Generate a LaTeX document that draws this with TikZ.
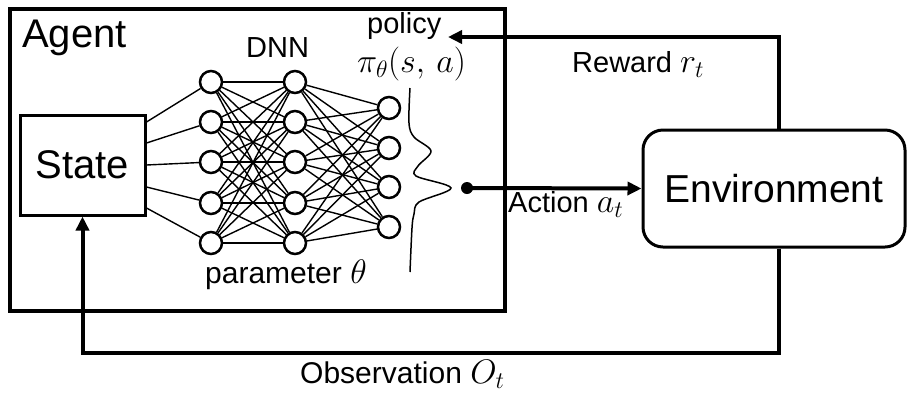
\RequirePackage{fix-cm}
\documentclass[tikz,border=0pt]{standalone}
\usepackage{fontspec}
\setmainfont{Liberation Sans}
\usetikzlibrary{arrows.meta,calc}
\newcommand{\fs}[1]{\fontsize{#1}{#1}\selectfont}
\newcommand{\mth}[1]{{\fs{34}$#1$}}
\begin{document}
\begin{tikzpicture}[x=1pt,y=-1pt,
  neuron/.style={circle,draw,line width=2.5pt,minimum size=22pt,inner sep=0pt},
  wire/.style={line width=1.4pt},
  flow/.style={line width=4pt,-{Triangle[length=14pt,width=13pt]}},
  lbl/.style={inner sep=0pt,anchor=base west},
]
\useasboundingbox (0,0) rectangle (907,392);

% agent frame
\node[draw,line width=3.2pt,minimum width=495pt,minimum height=302pt,inner sep=0pt] (agent) at (257.5,160) {};

% state and environment boxes
\node[draw,line width=3pt,minimum width=125pt,minimum height=100pt,inner sep=0pt] (state) at (82.5,165) {\fs{40}State};
\node[draw,rounded corners=20pt,line width=3pt,minimum width=262pt,minimum height=117pt,inner sep=0pt] (env) at (774,188.5) {\fs{39}Environment};

% network layers
\foreach \i/\y in {1/82,2/122,3/162,4/203,5/243}{
  \node[neuron] (a\i) at (211,\y) {};
  \node[neuron] (b\i) at (295,\y) {};
}
\foreach \i/\y in {1/108,2/148,3/187,4/227}
  \node[neuron] (c\i) at (389,\y) {};

\foreach \i in {1,...,5}{
  \foreach \j in {1,...,5} \draw[wire] (a\i) -- (b\j);
  \foreach \j in {1,...,4} \draw[wire] (b\i) -- (c\j);
}
\foreach \i/\d in {1/43,2/22,3/0,4/-22,5/-43}
  \draw[wire] ([yshift=\d pt]state.east) -- (a\i);

% output distribution
\draw[line width=1.5pt] plot[smooth,tension=0.55] coordinates
  {(410,88) (409,123) (414,137) (431,151) (418,166) (416,176) (451,188) (419,202) (414,214) (412,228) (410,272)};
\node[circle,fill,minimum size=12pt,inner sep=0pt] (act) at (467,188) {};

% interaction loop
\coordinate (rin) at (448,37);
\coordinate (obs) at (82.5,353);
\draw[flow] (act.center) -- (env.west);
\draw[flow] ([xshift=5pt]env.north) |- (rin);
\draw[flow] ([xshift=5pt]env.south) |- (obs) -- (state.south);

% labels
\node[lbl] (agentlbl) at (22,47) {\fs{40}Agent};
\node[lbl] (dnn) at (246,57) {\fs{29}DNN};
\node[lbl] (policy) at (367,33) {\fs{29}policy};
\node[lbl] (pi) at (357,72) {\mth{\pi_\theta(s,\,a)}};
\node[lbl] (param) at (205,283) {\fs{30}parameter \mth{\theta}};
\node[lbl] (rew) at (572,72) {\fs{29}Reward \mth{r_t}};
\node[lbl] (actl) at (508,212) {\fs{29}Action \mth{a_t}};
\node[lbl] (obsl) at (300,383) {\fs{30}Observation \mth{O_t}};
\end{tikzpicture}
\end{document}
